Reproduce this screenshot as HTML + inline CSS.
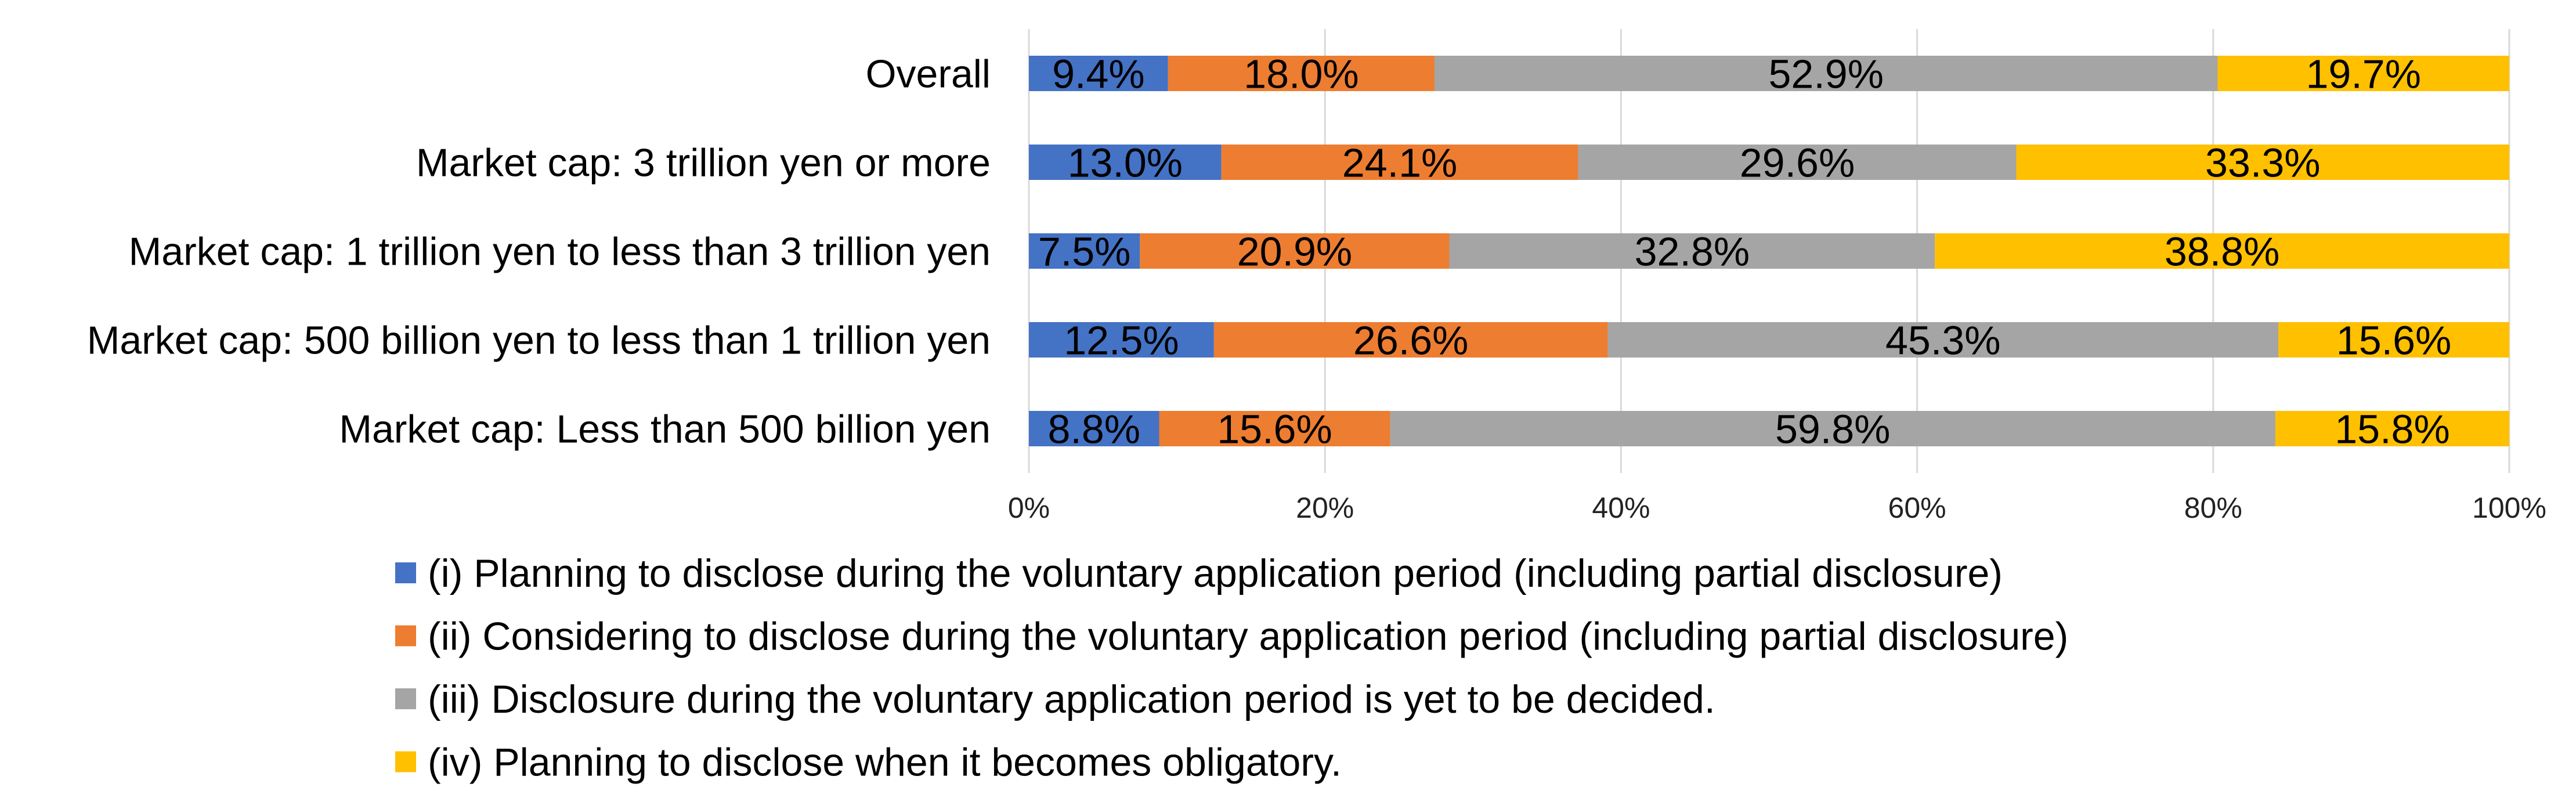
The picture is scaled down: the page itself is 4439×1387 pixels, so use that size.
<!DOCTYPE html>
<html><head><meta charset="utf-8"><style>
html,body{margin:0;padding:0;background:#fff;}
svg{display:block;font-family:"Liberation Sans",Arial,sans-serif;}
</style></head><body>
<svg id="chart" width="4439" height="1387" viewBox="0 0 4439 1387" xmlns="http://www.w3.org/2000/svg">
<rect width="4439" height="1387" fill="#fff"/>
<g id="grid"></g>
<g id="bars"></g>
<g id="cats"></g>
<g id="ticks"></g>
<g id="legend"></g>
</svg>
<script>
const categories = ["Overall","Market cap: 3 trillion yen or more","Market cap: 1 trillion yen to less than 3 trillion yen","Market cap: 500 billion yen to less than 1 trillion yen","Market cap: Less than 500 billion yen"];
const seriesI = [9.4,13.0,7.5,12.5,8.8];
const seriesII = [18.0,24.1,20.9,26.6,15.6];
const seriesIII = [52.9,29.6,32.8,45.3,59.8];
const seriesIV = [19.7,33.3,38.8,15.6,15.8];
const tickValues = [0,20,40,60,80,100];
const tickLabels = ["0%","20%","40%","60%","80%","100%"];
const seriesNames = ["(i) Planning to disclose during the voluntary application period (including partial disclosure)","(ii) Considering to disclose during the voluntary application period (including partial disclosure)","(iii) Disclosure during the voluntary application period is yet to be decided.","(iv) Planning to disclose when it becomes obligatory."];

const NS="http://www.w3.org/2000/svg";
const colors=["#4472c4","#ed7d31","#a5a5a5","#ffc000"];
const series=[seriesI,seriesII,seriesIII,seriesIV];
const X0=1773,X1=4324,T=50,B=815;
const band=(B-T)/categories.length, bh=61;
const x=v=>X0+(v/100)*(X1-X0);
const yc=i=>T+band*(i+0.5);
function mk(tag,attrs,parent,txt){const e=document.createElementNS(NS,tag);for(const k in attrs)e.setAttribute(k,attrs[k]);if(txt!==undefined)e.textContent=txt;parent.appendChild(e);return e;}
const G=document.getElementById('grid'),Bg=document.getElementById('bars'),C=document.getElementById('cats'),Tk=document.getElementById('ticks'),L=document.getElementById('legend');
tickValues.forEach((t,i)=>{
  const l=mk('line',{x1:x(t),x2:x(t),y1:T,y2:B,stroke:'#d9d9d9','stroke-width':3},G);
  
  
  const tx=mk('text',{x:x(t),y:892,'font-size':50,'text-anchor':'middle',fill:'#222'},Tk,tickLabels[i]);
  
  
});
categories.forEach((c,i)=>{
  const tx=mk('text',{x:1707,y:yc(i)+24,'font-size':68,'text-anchor':'end',fill:'#000'},C,c);
  
  
  let acc=0;
  series.forEach((s,j)=>{
    const v=s[i];
    const r=mk('rect',{x:x(acc),y:yc(i)-bh/2,width:x(acc+v)-x(acc),height:bh,fill:colors[j]},Bg);
    
    
    const lb=mk('text',{x:(x(acc)+x(acc+v))/2,y:yc(i)+25,'font-size':70,'text-anchor':'middle',fill:'#000'},Bg,v.toFixed(1)+'%');
    
    
    acc+=v;
  });
});
seriesNames.forEach((n,j)=>{
  const cy=987+108.5*j;
  const g=mk('g',{},L);
  
  
  mk('rect',{x:681,y:cy-18,width:36,height:36,fill:colors[j]},g);
  mk('text',{x:737,y:cy+24,'font-size':68,fill:'#000'},g,n);
});
</script>
</body></html>
